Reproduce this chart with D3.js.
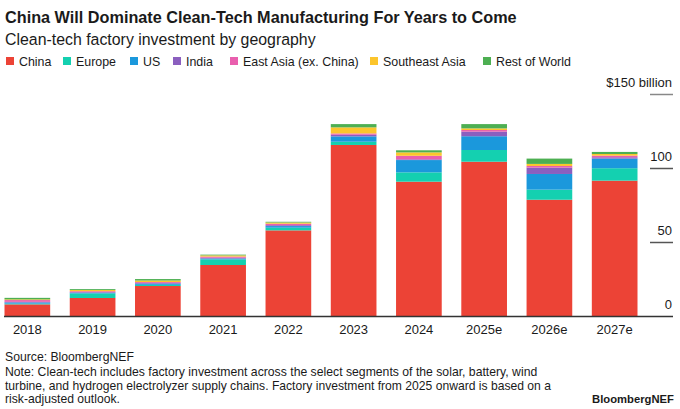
<!DOCTYPE html>
<html><head><meta charset="utf-8">
<script src="https://cdn.jsdelivr.net/npm/d3@7"></script>
<style>
body{margin:0;background:#fff;}
svg text{font-family:"Liberation Sans",Arial,sans-serif;fill:#1a1a1a;}
</style></head>
<body><svg id="c" width="680" height="409"></svg>
<script>
const years = ["2018","2019","2020","2021","2022","2023","2024","2025e","2026e","2027e"];
const seriesNames = ["China","Europe","US","India","East Asia (ex. China)","Southeast Asia","Rest of World"];
const seriesKeys = ["china","europe","us","india","eastAsia","seAsia","row"];
const colors = ["#ec4336","#14d0b0","#1b98dc","#8b5fbf","#e95fae","#fcc52c","#4daf52"];
const china    = [8.2, 12.5, 20.6, 34.8, 58.2, 115.9, 91.1, 104.6, 78.9, 91.8];
const europe   = [0.5, 3.1, 0.8, 3.8, 1.8, 2.2, 6.3, 7.9, 6.8, 8.4];
const us       = [0.8, 0.5, 0.8, 0.6, 1.1, 3.6, 8.3, 9.3, 10.6, 6.5];
const india    = [0.4, 0.4, 0.5, 0.5, 0.6, 1.1, 0.5, 3.1, 4.3, 0.9];
const eastAsia = [1.2, 0.6, 0.6, 0.8, 1.0, 0.9, 2.4, 1.1, 1.1, 1.1];
const seAsia   = [0.5, 0.8, 1.0, 0.8, 0.8, 4.1, 2.3, 1.1, 1.4, 1.1];
const row      = [1.0, 0.6, 1.0, 0.5, 0.5, 2.2, 1.4, 2.9, 3.6, 1.4];
const yTicks = [0, 50, 100, 150];
const yTickLabels = ["0","50","100","$150 billion"];

const seriesData = {china, europe, us, india, eastAsia, seAsia, row};
const table = years.map((y,i)=>{const o={year:y}; seriesKeys.forEach(k=>o[k]=seriesData[k][i]); return o;});

const svg = d3.select("#c");
const x = d3.scaleBand().domain(years).range([4.5,637.5]).paddingInner(0.3).paddingOuter(0);
const y = d3.scaleLinear().domain([0,150]).range([316.5,94.5]);
const color = d3.scaleOrdinal().domain(seriesKeys).range(colors);

function fit(sel, w){ const n=sel.node(); const cur=n.getComputedTextLength(); const fs=parseFloat(sel.attr("font-size")); sel.attr("font-size", fs*w/cur); return sel; }

// title
fit(svg.append("text").attr("x",5).attr("y",23).attr("font-size",17).attr("font-weight","bold")
  .text("China Will Dominate Clean-Tech Manufacturing For Years to Come"), 512);
fit(svg.append("text").attr("x",5).attr("y",45).attr("font-size",16)
  .text("Clean-tech factory investment by geography"), 311);

// legend
const legX = [6,63,130,173,230,370,483];
const lg = svg.append("g");
seriesNames.forEach((n,i)=>{
  lg.append("rect").attr("x",legX[i]).attr("y",57).attr("width",8).attr("height",8).attr("fill",colors[i]);
  lg.append("text").attr("x",legX[i]+13).attr("y",65.5).attr("font-size",12.4).text(n);
});

// bars
const stack = d3.stack().keys(seriesKeys)(table);
svg.append("g").selectAll("g").data(stack).join("g").attr("fill",d=>color(d.key))
  .selectAll("rect").data(d=>d).join("rect")
  .attr("x",d=>x(d.data.year)).attr("width",x.bandwidth())
  .attr("y",d=>y(d[1])).attr("height",d=>y(d[0])-y(d[1]));

// y ticks
yTicks.forEach((v,i)=>{
  if(v>0) svg.append("line").attr("x1",650).attr("x2",673).attr("y1",y(v)).attr("y2",y(v))
    .attr("stroke", v===150?"#888":"#555").attr("stroke-width",1.5);
  svg.append("text").attr("x",672).attr("y",y(v)-8).attr("text-anchor","end").attr("font-size",13).text(yTickLabels[i]);
});
// baseline
svg.append("line").attr("x1",4).attr("x2",673).attr("y1",316.5).attr("y2",316.5).attr("stroke","#333").attr("stroke-width",1.5);

// x labels
svg.append("g").selectAll("text").data(years).join("text")
  .attr("x",d=>x(d)+x.bandwidth()/2).attr("y",334).attr("text-anchor","middle").attr("font-size",13).text(d=>d);

// footer
const foot = ["Source: BloombergNEF",
 "Note: Clean-tech includes factory investment across the select segments of the solar, battery, wind",
 "turbine, and hydrogen electrolyzer supply chains. Factory investment from 2025 onward is based on a",
 "risk-adjusted outlook."];
const footW = [129, 533, 547, 115];
const footY = [361, 376, 389.5, 403];
foot.forEach((t,i)=>{ fit(svg.append("text").attr("x",5).attr("y",footY[i]).attr("font-size",12).text(t), footW[i]); });
fit(svg.append("text").attr("x",674).attr("y",403).attr("text-anchor","end").attr("font-size",12).attr("font-weight","bold").text("BloombergNEF"), 82);
</script></body></html>
